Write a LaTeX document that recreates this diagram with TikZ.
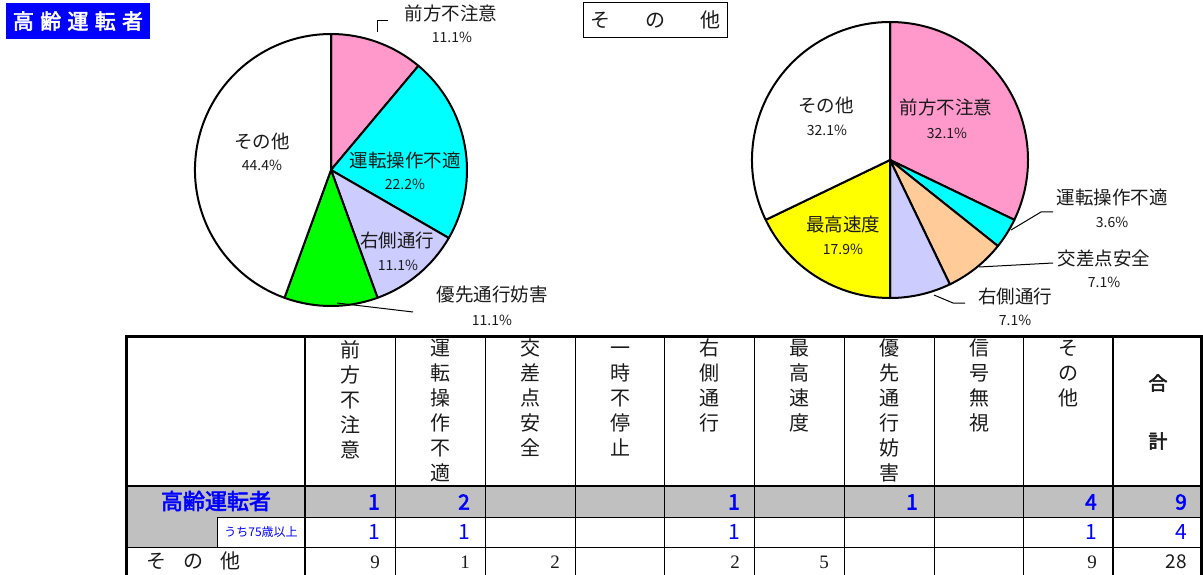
\documentclass[tikz,border=0pt]{standalone}
\usepackage{fontspec}
\setmainfont{Noto Sans CJK JP}
\newfontfamily\jpb{Noto Sans CJK JP}[FakeBold=2.6]
\newfontfamily\serifnum{Liberation Serif}
\definecolor{pinkA}{HTML}{FF99CC}
\definecolor{cyanA}{HTML}{00FFFF}
\definecolor{lavA}{HTML}{CCCCFF}
\definecolor{greenA}{HTML}{00FF00}
\definecolor{peachA}{HTML}{FFCC99}
\definecolor{yellowA}{HTML}{FFFF00}
\definecolor{grayA}{HTML}{C0C0C0}
\definecolor{blueT}{HTML}{0000FF}
\definecolor{textG}{HTML}{1A1A1A}
\tikzset{
  slice/.style={draw=black, line width=2pt, line join=round},
  lbl/.style={inner sep=0pt, align=center, font=\fontsize{18.5}{24}\selectfont, text=textG},
  pct/.style={inner sep=0pt, font=\fontsize{14}{16}\selectfont, text=textG},
  leader/.style={draw=black, line width=1pt},
  thick/.style={line width=2.6pt},
  thin/.style={line width=0.8pt},
  hdr/.style={inner sep=0pt, anchor=north, align=center, font=\fontsize{20}{25}\selectfont, text=textG},
  bnum/.style={inner sep=0pt, anchor=east, font=\jpb\fontsize{21}{22}\selectfont, text=blueT},
  snum/.style={inner sep=0pt, anchor=east, font=\fontsize{21}{22}\selectfont, text=blueT},
  rnum/.style={inner sep=0pt, anchor=east, font=\serifnum\fontsize{19}{20}\selectfont, text=textG},
}
\newcommand{\pieslice}[4]{% color, start, end, radius
  \filldraw[slice, fill=#1] (0,0) -- (#2:#4) arc[start angle=#2, end angle=#3, radius=#4] -- cycle;}
\begin{document}
\begin{tikzpicture}[x=1pt, y=-1pt]
\useasboundingbox (0,0) rectangle (1203,575);
% title boxes
\node[fill=blueT, text=white, inner sep=0pt, minimum width=144pt, minimum height=36pt, font=\jpb\fontsize{21}{22}\selectfont] (title) at (78,21) {高\hspace{0.3em}齢\hspace{0.3em}運\hspace{0.3em}転\hspace{0.3em}者};
\node[draw=black, line width=0.8pt, inner sep=0pt, minimum width=144pt, minimum height=35pt, font=\fontsize{20}{20}\selectfont, text=textG] (title2) at (655,20) {そ\hspace{1.75em}の\hspace{1.75em}他};
% left pie
\begin{scope}[shift={(331,170)}, yscale=-1]
  \pieslice{pinkA}{90}{50}{136}
  \pieslice{cyanA}{50}{-30}{136}
  \pieslice{lavA}{-30}{-70}{136}
  \pieslice{greenA}{-70}{-110}{136}
  \pieslice{white}{-110}{-270}{136}
\end{scope}
\node[lbl] (l1) at (451,13) {前方不注意};
\node[pct] (l1p) at (452,37) {11.1\%};
\node[lbl] (l2) at (405,160) {運転操作不適};
\node[pct] (l2p) at (405,184) {22.2\%};
\node[lbl] (l3) at (397,240) {右側通行};
\node[pct] (l3p) at (398,265) {11.1\%};
\node[lbl] (l4) at (262,141) {その他};
\node[pct] (l4p) at (262,165) {44.4\%};
\node[lbl] (l5) at (492,295) {優先通行妨害};
\node[pct] (l5p) at (492,320) {11.1\%};
\coordinate (c1a) at (377,32);
\coordinate (c1b) at (388,21);
\draw[leader] (c1a) |- (c1b);
\coordinate (c5a) at (337,303);
\coordinate (c5b) at (413,312);
\draw[leader] (c5a) -- (c5b);
% right pie
\begin{scope}[shift={(890,160)}, yscale=-1]
  \pieslice{pinkA}{90}{-25.71}{138}
  \pieslice{cyanA}{-25.71}{-38.57}{138}
  \pieslice{peachA}{-38.57}{-64.29}{138}
  \pieslice{lavA}{-64.29}{-90}{138}
  \pieslice{yellowA}{-90}{-154.29}{138}
  \pieslice{white}{-154.29}{-270}{138}
\end{scope}
\node[lbl] (r1) at (826,105) {その他};
\node[pct] (r1p) at (827,130) {32.1\%};
\node[lbl] (r2) at (946,107) {前方不注意};
\node[pct] (r2p) at (947,133) {32.1\%};
\node[lbl] (r3) at (843,224) {最高速度};
\node[pct] (r3p) at (843,249) {17.9\%};
\node[lbl] (r4) at (1112,197) {運転操作不適};
\node[pct] (r4p) at (1112,222) {3.6\%};
\node[lbl] (r5) at (1104,258) {交差点安全};
\node[pct] (r5p) at (1104,282) {7.1\%};
\node[lbl] (r6) at (1015,296) {右側通行};
\node[pct] (r6p) at (1015,320) {7.1\%};
\coordinate (d4a) at (1011,230);
\coordinate (d4b) at (1041,212);
\coordinate (d4c) at (1053,212);
\draw[leader] (d4a) -- (d4b) -- (d4c);
\coordinate (d5a) at (979,267);
\coordinate (d5b) at (1053,263);
\draw[leader] (d5a) -- (d5b);
\coordinate (d6a) at (934,295);
\coordinate (d6b) at (953,303);
\coordinate (d6c) at (965,303);
\draw[leader] (d6a) -- (d6b) -- (d6c);
% table fills
\fill[grayA] (125,486) rectangle (1203,517);
\fill[grayA] (125,517) rectangle (217,547);
% thin lines
\foreach \x in {395,485,575,664,754,844,934,1023} \draw[thin] (\x,335) -- (\x,575);
\draw[thin] (217,517) -- (1203,517);
\draw[thin] (217,517) -- (217,547);
\draw[thin] (125,547) -- (1203,547);
% thick lines
\draw[thick] (126.3,575) -- (126.3,336.3) -- (1201.7,336.3) -- (1201.7,575);
\draw[thick] (305,335) -- (305,575);
\draw[thick] (1113,335) -- (1113,575);
\draw[thick] (125,486) -- (1203,486);
% header
\node[hdr] (h1) at (350,340) {\strut 前\\方\\不\\注\\意};
\node[hdr] (h2) at (440,338) {\strut 運\\転\\操\\作\\不\\適};
\node[hdr] (h3) at (530,338) {\strut 交\\差\\点\\安\\全};
\node[hdr] (h4) at (620,338) {\strut 一\\時\\不\\停\\止};
\node[hdr] (h5) at (709,338) {\strut 右\\側\\通\\行};
\node[hdr] (h6) at (799,338) {\strut 最\\高\\速\\度};
\node[hdr] (h7) at (889,338) {\strut 優\\先\\通\\行\\妨\\害};
\node[hdr] (h8) at (979,338) {\strut 信\\号\\無\\視};
\node[hdr] (h9) at (1068,338) {\strut そ\\の\\他};
\node[inner sep=0pt, font=\jpb\fontsize{19}{20}\selectfont, text=textG] (h10a) at (1158,383) {合};
\node[inner sep=0pt, font=\jpb\fontsize{19}{20}\selectfont, text=textG] (h10b) at (1158,441) {計};
% row 1
\node[inner sep=0pt, font=\jpb\fontsize{22}{22}\selectfont, text=blueT] (row1) at (216,501) {高齢運転者};
\node[bnum] (a1) at (380,502) {1};
\node[bnum] (a2) at (470,502) {2};
\node[bnum] (a5) at (740,502) {1};
\node[bnum] (a7) at (918,502) {1};
\node[bnum] (a9) at (1097,502) {4};
\node[bnum] (a10) at (1187,502) {9};
% row 2
\node[inner sep=0pt, font=\fontsize{12}{13}\selectfont, text=blueT] (row2) at (261,532) {うち75歳以上};
\node[snum] (b1) at (380,532) {1};
\node[snum] (b2) at (470,532) {1};
\node[snum] (b5) at (740,532) {1};
\node[snum] (b9) at (1097,532) {1};
\node[snum] (b10) at (1187,532) {4};
% row 3
\node[inner sep=0pt, font=\fontsize{20}{22}\selectfont, text=textG] (row3) at (193,561) {そ\hspace{0.85em}の\hspace{0.85em}他};
\node[rnum] (c1) at (380,562) {9};
\node[rnum] (c2) at (470,562) {1};
\node[rnum] (c3) at (560,562) {2};
\node[rnum] (c5) at (740,562) {2};
\node[rnum] (c6) at (829,562) {5};
\node[rnum] (c9) at (1097,562) {9};
\node[inner sep=0pt, anchor=east, font=\fontsize{19}{20}\selectfont, text=textG] (c10) at (1187,562) {28};
\end{tikzpicture}
\end{document}
